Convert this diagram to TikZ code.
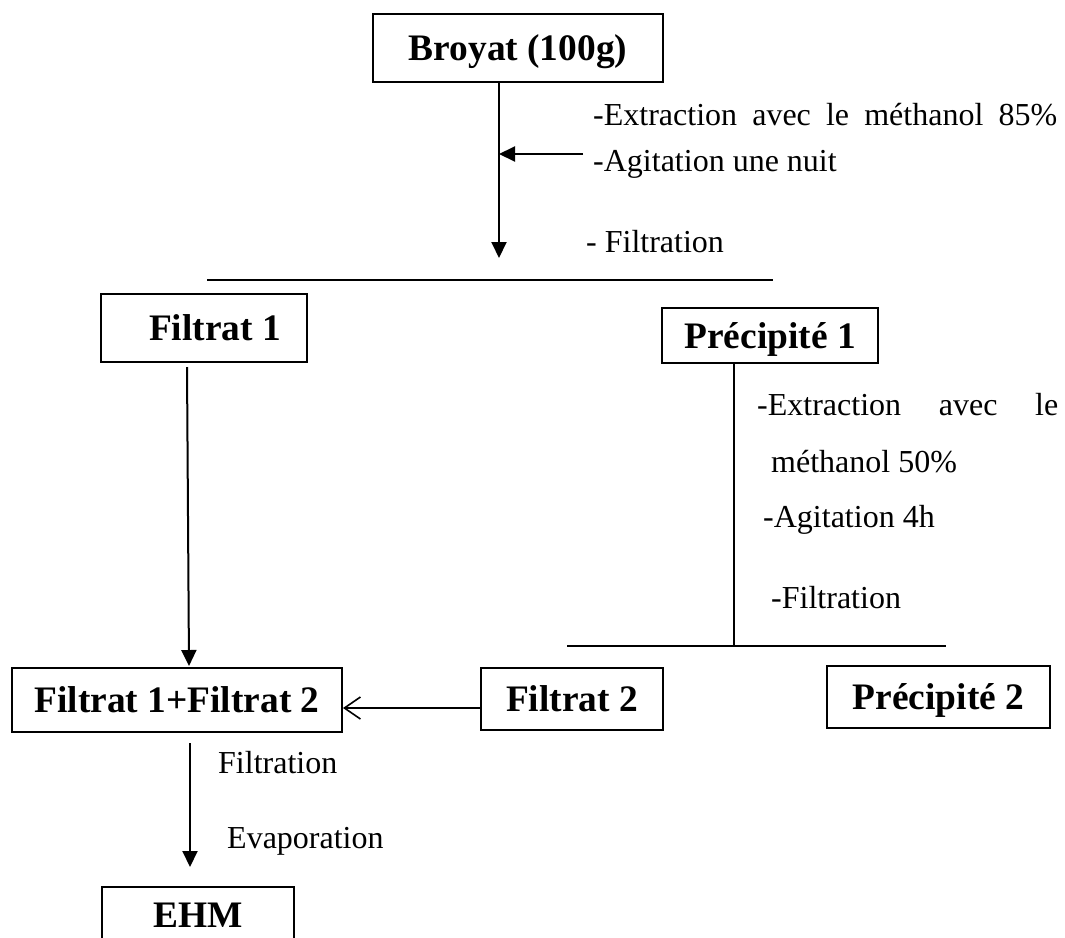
\documentclass[tikz,border=0pt]{standalone}
\usepackage{fontspec}
\setmainfont{Liberation Serif}
\usetikzlibrary{arrows.meta}
\begin{document}
\begin{tikzpicture}[x=1pt,y=-1pt,
  box/.style={draw, line width=2pt, inner sep=0pt, text height=25pt, text depth=0pt,
    font=\fontsize{37.4pt}{44pt}\selectfont\bfseries},
  boldtxt/.style={anchor=base, inner sep=0pt, font=\fontsize{37.4pt}{44pt}\selectfont\bfseries},
  txt/.style={anchor=base west, inner sep=0pt, font=\fontsize{32pt}{38pt}\selectfont},
  ln/.style={line width=2pt},
  arr/.style={ln, -{Triangle[length=16pt,width=15pt]}},
  barb/.style={line width=1.6pt, -{Straight Barb[length=16pt,width=22pt,line width=1.6pt]}}
]
\fill[white] (0,0) rectangle (1065,937);
\useasboundingbox (0,0) rectangle (1065,937);

% boxes
\node[box, minimum width=290pt, minimum height=68pt] (broyat) at (518,48) {Broyat (100g)};
\node[box, minimum width=206pt, minimum height=68pt] (f1) at (204,328) {\hspace*{22pt}Filtrat 1};
\node[box, minimum width=216pt, minimum height=55pt] (p1) at (770,335.5) {Précipité 1};
\node[box, minimum width=330pt, minimum height=64pt] (f12) at (177,700) {Filtrat 1+Filtrat 2};
\node[box, minimum width=182pt, minimum height=62pt] (f2) at (572,699) {Filtrat 2};
\node[box, minimum width=223pt, minimum height=62pt] (p2) at (938.5,697) {Précipité 2};
\begin{scope}
\clip (0,0) rectangle (1065,937);
\node[box, minimum width=192pt, minimum height=90pt] (ehm) at (198,932) {};
\end{scope}
\node[boldtxt] (ehmt) at (198,927) {EHM};

% texts
\node[txt] (t1) at (593,125) {\makebox[464pt][s]{-Extraction avec le méthanol 85\%}};
\node[txt] (t2) at (593,171) {-Agitation une nuit};
\node[txt] (t3) at (586,252) {- Filtration};
\node[txt] (t4) at (757,415) {\makebox[301pt][s]{-Extraction avec le}};
\node[txt] (t5) at (771,472) {méthanol 50\%};
\node[txt] (t6) at (763,527) {-Agitation 4h};
\node[txt] (t7) at (771,608) {-Filtration};
\node[txt] (t8) at (218,773) {Filtration};
\node[txt] (t9) at (227,848) {Evaporation};

% coordinates
\coordinate (c1) at (499,258);
\coordinate (a1) at (583,154);
\coordinate (l1a) at (207,280);
\coordinate (l1b) at (773,280);
\coordinate (c2s) at (187,367);
\coordinate (c2) at (189,666);
\coordinate (l2c) at (734,646);
\coordinate (l2a) at (567,646);
\coordinate (l2b) at (946,646);
\coordinate (c3) at (190,867);
\coordinate (f2l) at (481,708);

% connectors
\draw[arr] (broyat.south -| c1) -- (c1);
\draw[arr] (a1) -- (a1 -| c1);
\draw[ln] (l1a) -- (l1b);
\draw[arr] (c2s) -- (c2);
\draw[barb] (f2.west |- f2l) -- (f12.east |- f2l);
\draw[ln] (p1.south -| l2c) -- (l2c);
\draw[ln] (l2a) -- (l2b);
\draw[arr] (f12.south -| c3) ++(0,10) -- (c3);
\end{tikzpicture}
\end{document}
